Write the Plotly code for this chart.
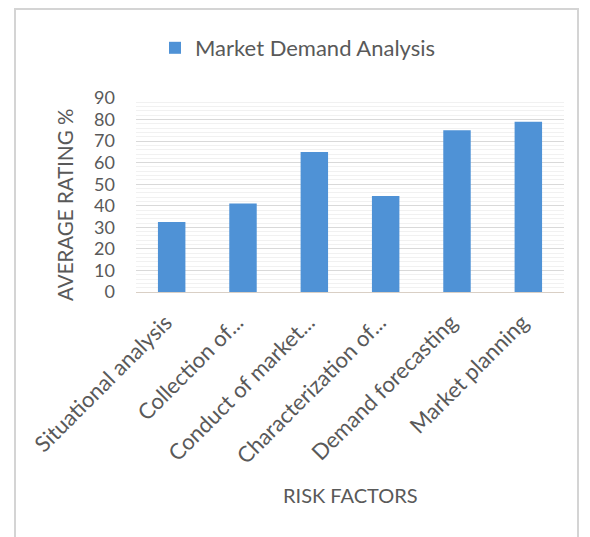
import plotly.graph_objects as go

categories = ["Situational analysis", "Collection of...", "Conduct of market...",
              "Characterization of...", "Demand forecasting", "Market planning"]
values = [32.5, 41, 65, 44.5, 75, 79]
series_name = "Market Demand Analysis"
y_ticks = [0, 10, 20, 30, 40, 50, 60, 70, 80, 90]

# page body margin shifts the figure by 8px; compensate
OFF = 8
W, H = 590, 537
# target plot area in screenshot pixels
X0, X1, Y0, Y1 = 136, 564, 98, 292
L, T = X0 - OFF, Y0 - OFF
R = W - (X1 - OFF)
B = H - (Y1 - OFF)
pw, ph = X1 - X0, Y1 - Y0

def px(x):
    return (x - X0) / pw

def py(y):
    return (Y1 - y) / ph

font = "Lato"
grey = "#595959"

fig = go.Figure()
fig.add_trace(go.Bar(x=categories, y=values, name=series_name,
                     marker=dict(color="#4f92d6", line=dict(width=0))))

fig.update_layout(
    width=W, height=H,
    margin=dict(l=L, r=R, t=T, b=B, autoexpand=False),
    paper_bgcolor="white", plot_bgcolor="white",
    bargap=0.615,
    showlegend=True,
    legend=dict(x=px(155), y=py(48), xanchor="left", yanchor="middle",
                orientation="h", font=dict(family=font, size=22, color=grey),
                itemwidth=30, bgcolor="rgba(0,0,0,0)"),
    xaxis=dict(tickangle=-45, tickfont=dict(family=font, size=22, color=grey),
               showgrid=False, showline=True, linecolor="#d9cfc5", linewidth=1,
               ticks="", automargin=False, ticklabelshift=-6, ticklabelstandoff=8),
    yaxis=dict(range=[0, 90], tickvals=y_ticks, tickfont=dict(family=font, size=18, color=grey),
               showgrid=True, gridcolor="#d9d9d9", gridwidth=1, zeroline=False,
               ticks="", automargin=False, ticklabelstandoff=20,
               minor=dict(dtick=2, showgrid=True, gridcolor="#f1f1f1", gridwidth=1)),
    annotations=[
        dict(text="AVERAGE RATING %", x=px(65), y=py(205), xref="paper", yref="paper",
             textangle=-90, showarrow=False, xanchor="center", yanchor="middle",
             font=dict(family=font, size=20.5, color=grey)),
        dict(text="RISK FACTORS", x=px(350), y=py(495), xref="paper", yref="paper",
             showarrow=False, xanchor="center", yanchor="middle",
             font=dict(family=font, size=20, color=grey)),
    ],
    shapes=[
        dict(type="rect", xref="paper", yref="paper", x0=px(15), x1=px(578), y0=py(560), y1=py(9),
             line=dict(color="#d4d4d4", width=2), layer="below"),
    ],
)

fig.write_html("out.html")
